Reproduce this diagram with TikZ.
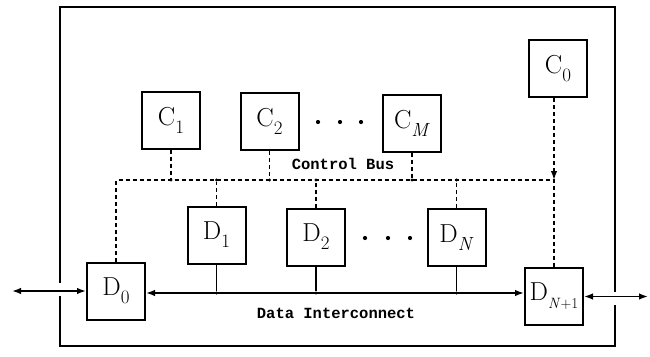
\documentclass[tikz,border=0pt]{standalone}
\usepackage{fontspec}
\newfontfamily\busfont{Liberation Mono}
\usetikzlibrary{arrows.meta}

% box label: big letter with a large lowered index
\newcommand\blab[3][19]{\fontsize{26}{26}\selectfont #2\raisebox{-8pt}{\fontsize{#1}{#1}\selectfont #3}}

\tikzset{
  unit/.style={draw, line width=2pt, minimum width=58pt, minimum height=57pt, inner sep=0pt, fill=white},
  frame/.style={line width=2pt},
  datal/.style={line width=1.5pt},
  ctrl/.style={line width=1.4pt, dash pattern=on 4pt off 3pt},
  tip/.style={-{Latex[length=9pt,width=6.5pt]}},
  bitip/.style={{Latex[length=9pt,width=6.5pt]}-{Latex[length=9pt,width=6.5pt]}},
  jdot/.style={circle, fill=black, inner sep=0pt, minimum size=3.4pt},
  ell/.style={circle, fill=black, inner sep=0pt, minimum size=4.2pt},
  buslabel/.style={font=\busfont\bfseries\fontsize{15.5}{16}\selectfont}
}

\begin{document}
\begin{tikzpicture}[x=1pt,y=-1pt]
\useasboundingbox (0,0) rectangle (650,356);

% enclosing system boundary, open where the external links pass through
\draw[frame] (60,283) -- (60,7) -- (615,7) -- (615,292);
\draw[frame] (615,305) -- (615,346) -- (60,346) -- (60,296);

% controllers
\node[unit] (C1) at (171,120)   {\blab{C}{1}};
\node[unit] (C2) at (269.5,121.5) {\blab{C}{2}};
\node[unit] (CM) at (412,123)   {\blab{C}{\textit{M}}};
\node[unit] (C0) at (558,68.5)  {\blab{C}{0}};

% data units
\node[unit] (D0)  at (116,291)   {\blab{D}{0}};
\node[unit] (D1)  at (216.5,235) {\blab{D}{1}};
\node[unit] (D2)  at (316,237)   {\blab{D}{2}};
\node[unit] (DN)  at (456.5,237.5) {\blab{D}{\textit{N}}};
\node[unit] (DN1) at (554,296.5) {\blab[15]{D}{\textit{N}+1}};

% ellipses between numbered units
\foreach \x in {318,340,361} \node[ell] at (\x,122) {};
\foreach \x in {365,388,410} \node[ell] at (\x,238) {};

% control bus
\coordinate (cb) at (0,180);
\coordinate (cbL) at (D0.north |- cb);
\coordinate (cbR) at (DN1.north |- cb);
\draw[ctrl] (D0.north) -- (cbL) -- (cbR) -- (DN1.north);
\draw[ctrl, tip] (C0.south -| cbR) -- (cbR);
\foreach \n in {C1,C2,CM} {
  \node[jdot] (j\n) at (\n.south |- cb) {};
  \draw[ctrl] (\n.south) -- (j\n);
}
\foreach \n in {D1,D2,DN} {
  \node[jdot] (j\n) at (\n.north |- cb) {};
  \draw[ctrl] (\n.north) -- (j\n);
}
\node[buslabel] (cbl) at (343,164) {Control Bus};

% data interconnect
\coordinate (di) at (0,293);
\draw[datal, bitip] (D0.east |- di) -- (DN1.west |- di);
\foreach \n in {D1,D2,DN} {
  \node[jdot] (k\n) at (\n.south |- di) {};
  \draw[datal] (\n.south) -- (k\n);
}
\node[buslabel] (dil) at (336,313) {Data Interconnect};

% external links
\coordinate (extL) at (12,291);
\coordinate (extR) at (648,296.5);
\draw[datal, bitip] (extL) -- (D0.west);
\draw[datal, bitip] (DN1.east) -- (extR);
\end{tikzpicture}
\end{document}
